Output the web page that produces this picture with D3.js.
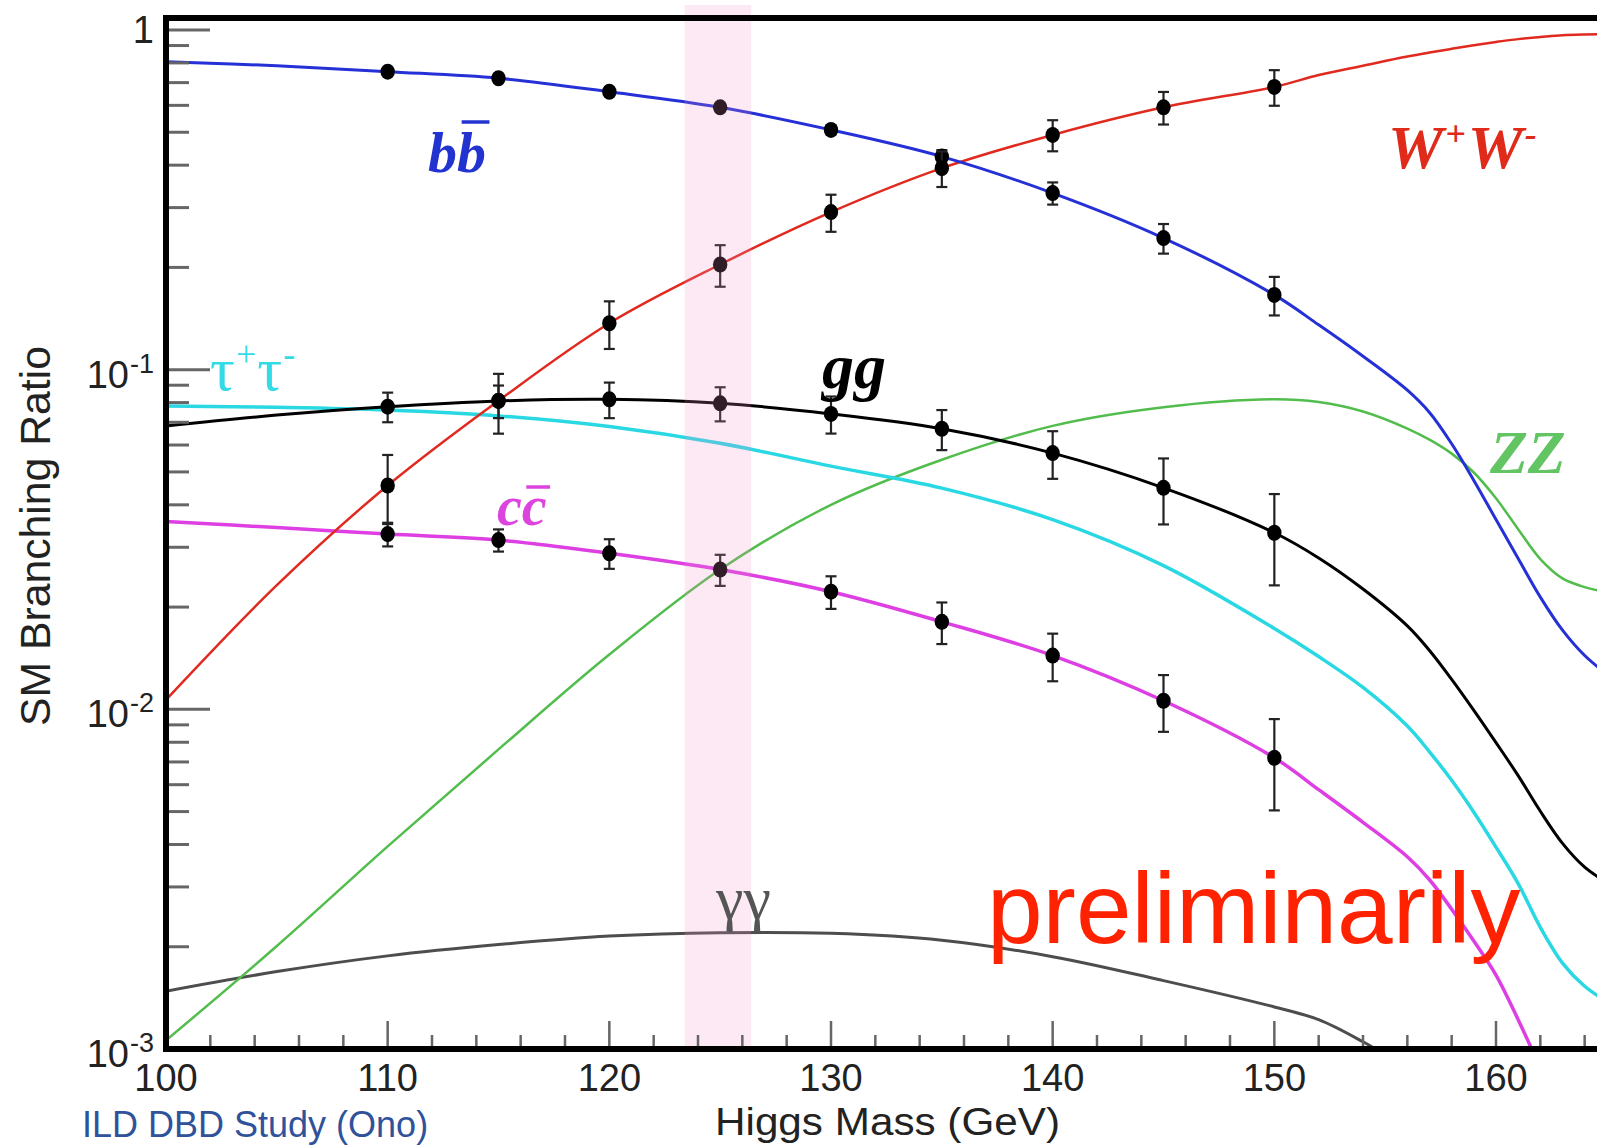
<!DOCTYPE html>
<html><head><meta charset="utf-8">
<script src="https://cdn.jsdelivr.net/npm/d3@7"></script>
<style>body{margin:0;background:#fff}svg{display:block}</style>
</head><body>
<svg id="chart" width="1597" height="1145"></svg>
<script>
// ---------- data ----------
const massGrid   = [100,105,110,115,120,125,130,135,140,145,150,152,154,156,157,158,159,160,161,162,163,164,165];
const bbCurve    = [0.807,0.785,0.754,0.721,0.658,0.592,0.508,0.424,0.331,0.244,0.166,0.1355,0.1095,0.0870,0.0748,0.0605,0.0472,0.0362,0.0278,0.0214,0.0171,0.0144,0.0127];
const wwCurve    = [0.01066,0.0232,0.0456,0.081,0.137,0.204,0.291,0.392,0.491,0.592,0.680,0.737,0.785,0.835,0.858,0.880,0.902,0.922,0.940,0.953,0.965,0.970,0.972];
const ggCurve    = [0.0683,0.0735,0.0778,0.0809,0.0818,0.0796,0.0741,0.067,0.0568,0.0449,0.0331,0.0279,0.0226,0.0176,0.0149,0.01225,0.00993,0.00798,0.00638,0.00501,0.00403,0.00343,0.00309];
const tauCurve   = [0.0782,0.0775,0.0761,0.0731,0.068,0.0607,0.052,0.0448,0.0362,0.0265,0.0173,0.0143,0.0116,0.00893,0.0075,0.00618,0.00498,0.00393,0.00307,0.00228,0.00179,0.00153,0.00138];
const ccCurve    = [0.0357,0.0343,0.0328,0.0315,0.0288,0.0258,0.0222,0.0181,0.0144,0.0106,0.0072,0.0058,0.00465,0.00368,0.00315,0.00258,0.00208,0.00165,0.00122,0.00088,0.00064,0.00048,0.00037];
const zzCurve    = [0.00106,0.00201,0.00395,0.00762,0.0145,0.0258,0.040,0.0543,0.0683,0.0775,0.0818,0.0803,0.0753,0.0671,0.0622,0.0566,0.0498,0.0418,0.0339,0.0277,0.0243,0.0229,0.0221];
const gammaCurve = [0.00148,0.00169,0.00188,0.00203,0.00215,0.0022,0.00219,0.00209,0.00187,0.00159,0.00133,0.00122,0.00105,0.00088,0.0008,0.00072,0.00065,0.00058,0.00052,0.00046,0.00041,0.00037,0.00033];

const pointMass = [110,115,120,125,130,135,140,145,150];
const bbPoints  = [0.754,0.721,0.658,0.592,0.508,0.424,0.331,0.244,0.166];
const bbErr     = [0.015,0.015,0.02,0.025,0.03,0.045,0.075,0.10,0.13];
const wwPoints  = [0.0456,0.081,0.137,0.204,0.291,0.392,0.491,0.592,0.680];
const wwErr     = [0.23,0.20,0.16,0.14,0.125,0.12,0.105,0.11,0.12];
const ggPoints  = [0.0778,0.0809,0.0818,0.0796,0.0741,0.067,0.0568,0.0449,0.0331];
const ggErr     = [0.10,0.11,0.12,0.115,0.125,0.135,0.16,0.22,0.30];
const ccPoints  = [0.0328,0.0315,0.0288,0.0258,0.0222,0.0181,0.0144,0.0106,0.0072];
const ccErr     = [0.08,0.075,0.10,0.105,0.11,0.14,0.16,0.19,0.30];

const xMajorTicks = [100,110,120,130,140,150,160];
const xMinorStep = 2;
const yTickExp = [0,-1,-2,-3];
const bandRange = [123.4,126.4];

// ---------- layout ----------
const W = 1597, H = 1145;
const left = 166, bottom = 1049, frameTop = 18;
const x = d3.scaleLinear().domain([100,160]).range([166,1496]);
const y = d3.scaleLog().domain([1e-3,1]).range([bottom,30]);

const svg = d3.select('#chart');
const defs = svg.append('defs');
defs.append('clipPath').attr('id','plotclip').append('rect')
  .attr('x',left).attr('y',frameTop).attr('width',W-left).attr('height',bottom-frameTop);

const plot = svg.append('g').attr('clip-path','url(#plotclip)');

// ---------- curves ----------
const series = [
  {vals: gammaCurve, color:'#4d4d4d', w:3},
  {vals: zzCurve,    color:'#52bd4c', w:2.5},
  {vals: ccCurve,    color:'#dd3fe3', w:3.5},
  {vals: tauCurve,   color:'#2ad8e4', w:3.5},
  {vals: ggCurve,    color:'#000000', w:3},
  {vals: wwCurve,    color:'#e02a1f', w:2.5},
  {vals: bbCurve,    color:'#2530d6', w:3}
];
const line = d3.line().x(d=>x(d[0])).y(d=>y(d[1])).curve(d3.curveCatmullRom.alpha(0.5));
series.forEach(s=>{
  plot.append('path').datum(massGrid.map((m,i)=>[m,s.vals[i]]))
    .attr('d',line).attr('fill','none').attr('stroke',s.color)
    .attr('stroke-width',s.w).attr('stroke-linejoin','round');
});

// ---------- points with error bars ----------
const pointSets = [
  {v: bbPoints, e: bbErr},
  {v: wwPoints, e: wwErr},
  {v: ggPoints, e: ggErr},
  {v: ccPoints, e: ccErr}
];
const pg = plot.append('g');
pointSets.forEach(ps=>{
  pointMass.forEach((m,i)=>{
    const v = ps.v[i], e = ps.e[i];
    const px = x(m), y0 = y(v*(1-e)), y1 = y(v*(1+e));
    pg.append('line').attr('x1',px).attr('x2',px).attr('y1',y0).attr('y2',y1)
      .attr('stroke','#222').attr('stroke-width',2.2);
    [y0,y1].forEach(yy=>pg.append('line').attr('x1',px-5.5).attr('x2',px+5.5)
      .attr('y1',yy).attr('y2',yy).attr('stroke','#222').attr('stroke-width',2.2));
    pg.append('ellipse').attr('cx',px).attr('cy',y(v)).attr('rx',7.2).attr('ry',8)
      .attr('fill','#000');
  });
});

// ---------- pink band (overlay) ----------
svg.append('rect').attr('x',x(bandRange[0])).attr('y',5)
  .attr('width',x(bandRange[1])-x(bandRange[0])).attr('height',bottom-5)
  .attr('fill','#f090c8').attr('opacity',0.2);

// ---------- ticks ----------
const tickG = svg.append('g').attr('stroke','#666').attr('stroke-width',3);
yTickExp.forEach(n=>{
  const v = Math.pow(10,n);
  tickG.append('line').attr('x1',left).attr('x2',left+44).attr('y1',y(v)).attr('y2',y(v));
  for (let k=2;k<=9;k++){
    const mv = k*Math.pow(10,n-1);
    if (mv < 1e-3) continue;
    tickG.append('line').attr('x1',left).attr('x2',left+23).attr('y1',y(mv)).attr('y2',y(mv));
  }
});
for (let m=100; m<=166; m+=xMinorStep){
  const major = xMajorTicks.includes(m);
  if (x(m) > W) break;
  tickG.append('line').attr('x1',x(m)).attr('x2',x(m)).attr('y1',bottom)
    .attr('y2',bottom-(major?28:14)).attr('stroke-width',2.5);
}

// ---------- frame ----------
const frame = svg.append('g').attr('stroke','#000').attr('stroke-width',6).attr('fill','none');
frame.append('path').attr('d',`M${W+5},${frameTop}H${left}V${bottom}H${W+5}`).attr('stroke-linejoin','miter');

// ---------- tick labels ----------
const sans = "'Liberation Sans', Arial, Helvetica, sans-serif";
const serif = "'Liberation Serif', 'Times New Roman', serif";
xMajorTicks.forEach(m=>{
  svg.append('text').attr('x',x(m)).attr('y',1091).attr('text-anchor','middle')
    .attr('font-family',sans).attr('font-size',38).attr('fill','#222').text(m);
});
const labelRight = 154;
yTickExp.forEach(n=>{
  const ty = y(Math.pow(10,n));
  if (n===0){
    svg.append('text').attr('x',labelRight).attr('y',ty+13).attr('text-anchor','end')
      .attr('font-family',sans).attr('font-size',38).attr('fill','#222').text('1');
    return;
  }
  const sup = svg.append('text').attr('x',labelRight).attr('y',ty+3).attr('text-anchor','end')
    .attr('font-family',sans).attr('font-size',27).attr('fill','#222').text(String(n));
  const sw = sup.node().getComputedTextLength();
  svg.append('text').attr('x',labelRight-sw-1).attr('y',ty+18).attr('text-anchor','end')
    .attr('font-family',sans).attr('font-size',38).attr('fill','#222').text('10');
});

// ---------- axis titles ----------
svg.append('text').attr('x',887.5).attr('y',1135).attr('text-anchor','middle')
  .attr('font-family',sans).attr('font-size',38).attr('fill','#222')
  .attr('textLength',345).attr('lengthAdjust','spacingAndGlyphs').text('Higgs Mass (GeV)');
svg.append('text').attr('transform','translate(50,536) rotate(-90)').attr('text-anchor','middle')
  .attr('font-family',sans).attr('font-size',43).attr('fill','#222')
  .attr('textLength',380).attr('lengthAdjust','spacingAndGlyphs').text('SM Branching Ratio');

// ---------- curve labels ----------
function barLabel(parts, opts){
  const t = svg.append('text').attr('x',opts.x).attr('y',opts.y)
    .attr('font-family',serif).attr('font-size',opts.size).attr('fill',opts.color)
    .attr('font-weight',opts.bold?'bold':'normal').attr('font-style',opts.italic?'italic':'normal');
  let raised = 0;
  parts.forEach(p=>{
    const ts = t.append('tspan').text(p.t);
    if (p.sup) { ts.attr('font-size',opts.size*0.58).attr('dy',-p.raise - raised); raised = -p.raise; }
    else if (raised !== 0) { ts.attr('dy',-raised); raised = 0; }
    if (p.dx) ts.attr('dx',p.dx);
  });
  if (opts.barChar !== undefined){
    const node = t.node();
    const s = node.getStartPositionOfChar(opts.barChar).x;
    const e = node.getEndPositionOfChar(opts.barChar).x;
    svg.append('line').attr('x1',s+opts.size*0.08).attr('x2',e+opts.size*0.06)
      .attr('y1',opts.y-opts.barOff).attr('y2',opts.y-opts.barOff)
      .attr('stroke',opts.color).attr('stroke-width',3.5);
  }
}
barLabel([{t:'bb'}], {x:428,y:172,size:58,color:'#2233d0',bold:true,italic:true,barChar:1,barOff:50});
barLabel([{t:'W'},{t:'+',sup:true,raise:22,dx:2},{t:'W',dx:2},{t:'-',sup:true,raise:22,dx:2}],
  {x:1388,y:168,size:62,color:'#e02a1a',bold:true,italic:true});
barLabel([{t:'gg'}], {x:822,y:388,size:64,color:'#000',bold:true,italic:true});
barLabel([{t:'cc'}], {x:497,y:525,size:56,color:'#dd44dd',bold:true,italic:true,barChar:1,barOff:38});
barLabel([{t:'τ'},{t:'+',sup:true,raise:24,dx:1},{t:'τ',dx:1},{t:'-',sup:true,raise:24,dx:1}],
  {x:210,y:390,size:62,color:'#33dbe6',bold:false,italic:false});
barLabel([{t:'ZZ'}], {x:1490,y:473,size:62,color:'#62c462',bold:true,italic:true});
barLabel([{t:'γγ'}], {x:716,y:919,size:62,color:'#555',bold:false,italic:false});

// ---------- annotations ----------
svg.append('text').attr('x',987).attr('y',943).attr('font-family',sans).attr('font-size',100)
  .attr('fill','#ff2200').text('preliminarily');
svg.append('text').attr('x',82).attr('y',1137).attr('font-family',sans).attr('font-size',36)
  .attr('fill','#30529a').text('ILD DBD Study (Ono)');
</script>
</body></html>
